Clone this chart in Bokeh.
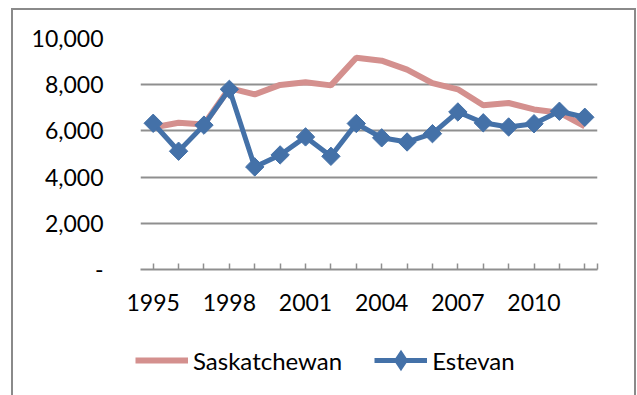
from bokeh.plotting import figure
from bokeh.layouts import column
from bokeh.models import (FixedTicker, NumeralTickFormatter, Legend, LegendItem, Range1d)
from bokeh.embed import file_html
from bokeh.resources import INLINE
import numpy as np

# Annual values, 1995-2012
years = list(range(1995, 2013))
saskatchewan = [6150, 6350, 6280, 7850, 7580, 7990, 8110, 7970, 9170, 9040,
                8650, 8070, 7800, 7110, 7210, 6930, 6790, 6200]
estevan = [6330, 5120, 6250, 7800, 4440, 4960, 5740, 4900, 6320, 5700,
           5520, 5880, 6820, 6350, 6170, 6310, 6850, 6590]
x_tick_labels = {1995: "1995", 1998: "1998", 2001: "2001",
                 2004: "2004", 2007: "2007", 2010: "2010"}
y_ticks = [0, 2000, 4000, 6000, 8000, 10000]

FONT = "Lato"
GRID = "#8f8f8f"
PINK = "#D4908E"
BLUE = "#4471A8"
FRAME = "#8a8a8a"
EDGE = f"linear-gradient({FRAME},{FRAME})"

# ---- chart panel -------------------------------------------------------
p = figure(width=637, height=330, output_backend="svg", toolbar_location=None,
           x_range=Range1d(1994.5, 2012.5), y_range=Range1d(0, 10000),
           min_border_left=140, min_border_right=40,
           min_border_top=38, min_border_bottom=61)
p.outline_line_color = None
p.background_fill_color = "white"
p.border_fill_alpha = 0
# grey chart border: left, top and right edges
p.styles = {
    "background-color": "white",
    "background-image": f"{EDGE}, {EDGE}, {EDGE}",
    "background-position": "11px 8px, 11px 8px, 634px 8px",
    "background-size": "2px 400px, 625px 2px, 2px 400px",
    "background-repeat": "no-repeat",
}

# x axis: tick marks at every year, labels every third year
p.xaxis.ticker = FixedTicker(ticks=years + [2012.5])
overrides = {y: x_tick_labels.get(y, "") for y in years}
overrides[2012.5] = ""
p.xaxis.major_label_overrides = overrides
p.xaxis.axis_line_color = GRID
p.xaxis.axis_line_width = 2
p.xaxis.major_tick_line_color = GRID
p.xaxis.major_tick_line_width = 1.5
p.xaxis.major_tick_in = 6
p.xaxis.major_tick_out = 0
p.xaxis.minor_tick_line_color = None
p.xaxis.major_label_standoff = 24
p.xaxis.major_label_text_font = FONT
p.xaxis.major_label_text_font_size = "23px"
p.xaxis.major_label_text_color = "black"

# y axis: labels only, grid lines across
p.yaxis.ticker = FixedTicker(ticks=y_ticks)
p.yaxis.formatter = NumeralTickFormatter(format="0,0")
p.yaxis.major_label_overrides = {0: "-"}
p.yaxis.axis_line_color = None
p.yaxis.major_tick_line_color = None
p.yaxis.minor_tick_line_color = None
p.yaxis.major_label_standoff = 31
p.yaxis.major_label_text_font = FONT
p.yaxis.major_label_text_font_size = "23px"
p.yaxis.major_label_text_color = "black"

p.xgrid.grid_line_color = None
p.ygrid.ticker = FixedTicker(ticks=y_ticks[1:])
p.ygrid.grid_line_color = GRID
p.ygrid.grid_line_width = 2

p.line(years, saskatchewan, line_color=PINK, line_width=6)
p.line(years, estevan, line_color=BLUE, line_width=5)
p.scatter(years, estevan, marker="square", angle=np.pi / 4,
          size=13, fill_color=BLUE, line_color=BLUE)

# ---- legend strip ------------------------------------------------------
lg = figure(width=637, height=65, output_backend="svg", toolbar_location=None,
            x_range=Range1d(0, 1), y_range=Range1d(0, 1),
            min_border=0)
if "frame_align" in lg.properties():
    lg.frame_align = False
lg.axis.visible = False
lg.grid.grid_line_color = None
lg.outline_line_color = None
lg.background_fill_alpha = 0
lg.border_fill_alpha = 0
lg.styles = {
    "background-color": "white",
    "background-image": f"{EDGE}, {EDGE}",
    "background-position": "11px 0px, 634px 0px",
    "background-size": "2px 100px, 2px 100px",
    "background-repeat": "no-repeat",
}
# key glyphs sit outside the strip's visible range; only their legend swatches show
off = [2, 3]
k_sask = lg.line(off, off, line_color=PINK, line_width=6)
k_est = lg.line(off, off, line_color=BLUE, line_width=5)
k_est_mark = lg.scatter(off, off, marker="diamond", line_width=3,
                        fill_color=BLUE, line_color=BLUE, line_join="miter")

legend = Legend(items=[LegendItem(label="Saskatchewan", renderers=[k_sask]),
                       LegendItem(label="Estevan", renderers=[k_est, k_est_mark])],
                orientation="horizontal", location=(135, 15),
                glyph_width=53, glyph_height=40, label_height=40, label_width=149,
                label_standoff=5, spacing=32,
                padding=0, margin=0, border_line_color=None,
                background_fill_alpha=0, label_text_color="black",
                label_text_font=FONT, label_text_font_size="24px")
lg.add_layout(legend, "center")

layout = column(p, lg, spacing=0)
open("out.html", "w").write(file_html(layout, INLINE))
